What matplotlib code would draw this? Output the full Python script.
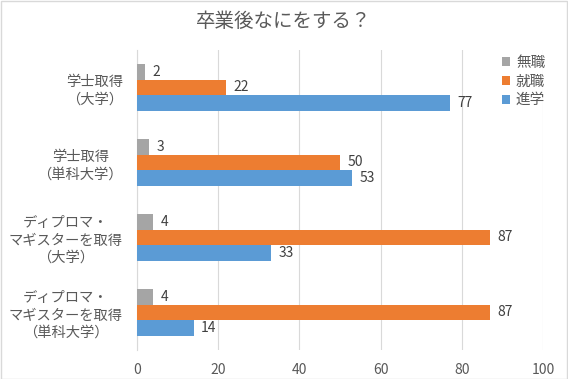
import matplotlib
matplotlib.use("Agg")
import matplotlib.pyplot as plt
import numpy as np
from matplotlib.patches import Rectangle

plt.rcParams['font.family'] = ['Noto Sans CJK JP', 'DejaVu Sans']

categories = ["学士取得\n（大学）", "学士取得\n（単科大学）",
              "ディプロマ・\nマギスターを取得\n（大学）",
              "ディプロマ・\nマギスターを取得\n（単科大学）"]
series_names = ["無職", "就職", "進学"]
mushoku = [2, 3, 4, 4]
shushoku = [22, 50, 87, 87]
shingaku = [77, 53, 33, 14]
colors = ["#a5a5a5", "#ed7d31", "#5b9bd5"]

fig = plt.figure(figsize=(5.68, 3.79), dpi=100)
ax = fig.add_axes([0.241, 0.0765, 0.715, 0.792])

y = np.arange(len(categories))
h = 0.207
vals = [mushoku, shushoku, shingaku]
for i, (name, v, c) in enumerate(zip(series_names, vals, colors)):
    pos = y + (i - 1) * h
    bars = ax.barh(pos, v, height=h, color=c, label=name, zorder=3)
    for b, val in zip(bars, v):
        ax.text(b.get_width() + 1.8, b.get_y() + b.get_height() / 2, str(val),
                va='center', ha='left', fontsize=10, color='#404040')

ax.set_xlim(0, 100)
ax.set_ylim(len(categories) - 0.5, -0.5)
ax.set_xticks(np.arange(0, 101, 20))
ax.set_yticks(y)
ax.set_yticklabels(categories, fontsize=10.3, color='#595959', linespacing=1.3,
                   multialignment='center')
ax.tick_params(axis='x', colors='#595959', labelsize=10, length=0, pad=9)
ax.tick_params(axis='y', length=0, pad=10)
ax.grid(axis='x', color='#d9d9d9', linewidth=0.8, zorder=0)
for s in ['top', 'right', 'bottom']:
    ax.spines[s].set_visible(False)
ax.spines['left'].set_color('#d9d9d9')

fig.text(0.5, 0.942, "卒業後なにをする？", ha='center', va='center',
         fontsize=14, color='#595959')

leg = fig.legend(loc='upper left', bbox_to_anchor=(0.866, 0.88), frameon=False,
                 fontsize=10.5, handlelength=0.55, handleheight=0.55,
                 handletextpad=0.4, labelspacing=0.33, borderpad=0.2)
for t in leg.get_texts():
    t.set_color('#595959')

fig.patches.append(Rectangle((0.001, 0.001), 0.997, 0.997, transform=fig.transFigure,
                             fill=False, edgecolor='#d9d9d9', linewidth=1))

fig.savefig("out.png", dpi=100)
